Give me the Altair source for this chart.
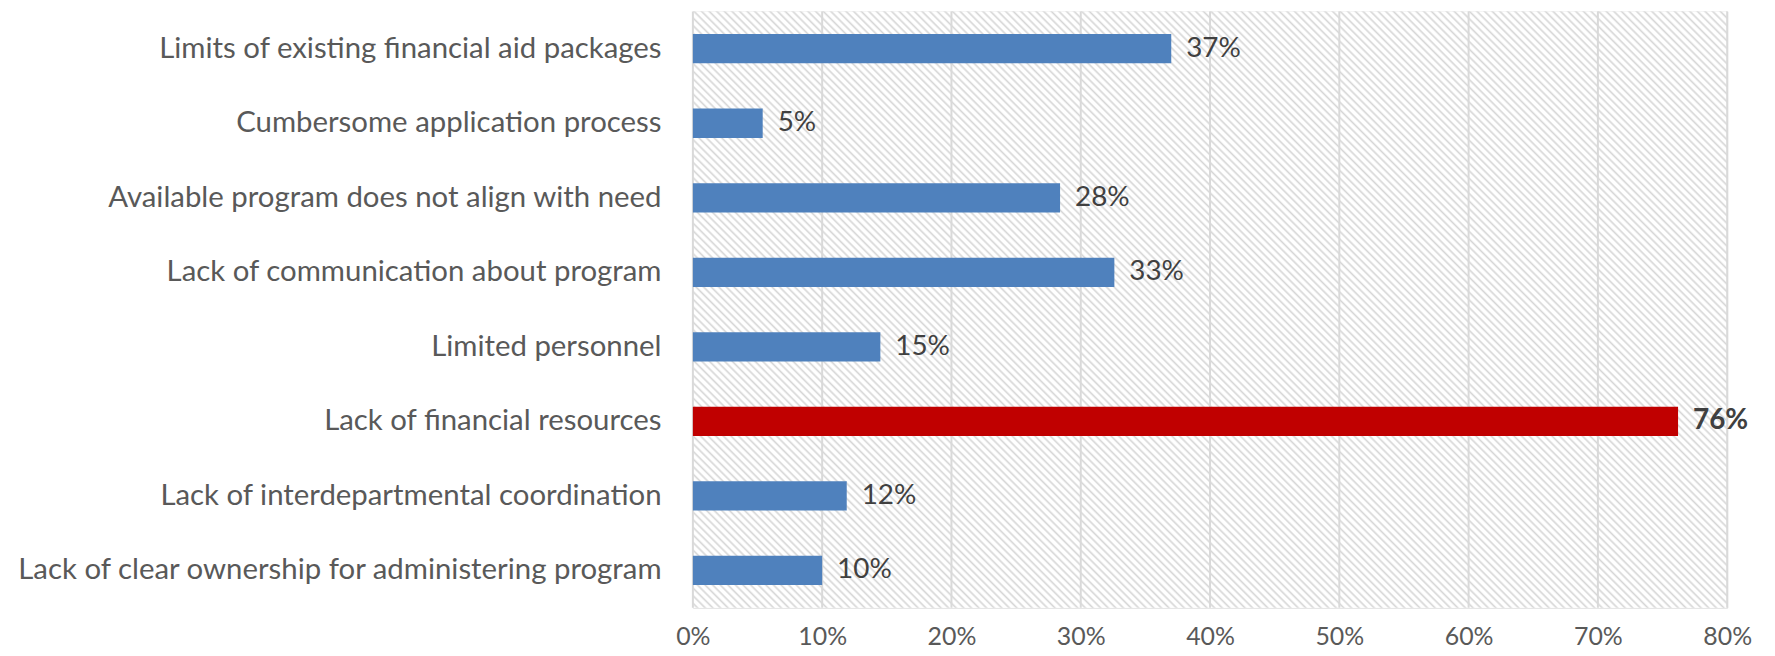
import altair as alt
import pandas as pd

categories = [
    "Limits of existing financial aid packages",
    "Cumbersome application process",
    "Available program does not align with need",
    "Lack of communication about program",
    "Limited personnel",
    "Lack of financial resources",
    "Lack of interdepartmental coordination",
    "Lack of clear ownership for administering program",
]
values = [37.0, 5.4, 28.4, 32.6, 14.5, 76.2, 11.9, 10.0]
value_labels = ["37%", "5%", "28%", "33%", "15%", "76%", "12%", "10%"]
highlight = "Lack of financial resources"
tick_values = [0, 10, 20, 30, 40, 50, 60, 70, 80]

FONT = "Lato"
W, H = 1039, 599

df = pd.DataFrame({"category": categories, "value": values, "label": value_labels})
ticks_df = pd.DataFrame({"tick": tick_values})
bg_df = pd.DataFrame({"lo": [tick_values[0]], "hi": [tick_values[-1]]})

# diagonal hatch as a striped linear gradient (45 degrees in pixel space)
ratio = H / W
k = (1 + ratio) / (1 + ratio * ratio)
span = (W + H) / 2 ** 0.5
period = 5.4 / span
stops = []
n = int(1 / period) + 1
for i in range(n + 1):
    for frac, col in ((0.0, "#ffffff"), (0.3, "#ffffff"), (0.6, "#d6d6d6"), (0.9, "#ffffff")):
        stops.append({"offset": min((i + frac) * period, 1.0), "color": col})
hatch = alt.LinearGradient(
    gradient="linear", stops=stops, x1=0, y1=1, x2=k, y2=1 - k * ratio
)

x_scale = alt.Scale(domain=[0, 80], nice=False, zero=True)
y_scale = alt.Scale(domain=categories, paddingInner=0.607, paddingOuter=0.3035)

x_axis = alt.Axis(
    title=None,
    domain=False,
    ticks=False,
    tickSize=0,
    grid=False,
    values=tick_values,
    labelExpr="datum.value + '%'",
    labelFont=FONT,
    labelFontSize=25,
    labelColor="#595959",
    labelPadding=17,
    labelFlush=False,
    labelAlign="center",
)

background = alt.Chart(bg_df).mark_rect(fill=hatch, stroke=None).encode(
    x=alt.X("lo:Q", scale=x_scale, axis=x_axis, title=None),
    x2="hi:Q",
)

grid = alt.Chart(ticks_df).mark_rule(color="#d9d9d9", strokeWidth=2).encode(
    x=alt.X("tick:Q", scale=x_scale, axis=x_axis, title=None)
)

base = alt.Chart(df)

bars = base.mark_bar().encode(
    y=alt.Y(
        "category:N",
        scale=y_scale,
        sort=categories,
        axis=alt.Axis(
            title=None,
            domain=False,
            ticks=False,
            tickSize=0,
            grid=False,
            labelFont=FONT,
            labelFontSize=29.5,
            labelColor="#595959",
            labelPadding=32,
            labelLimit=0,
        ),
    ),
    x=alt.X("value:Q", scale=x_scale, axis=x_axis, title=None),
    color=alt.condition(
        alt.datum.category == highlight, alt.value("#c00000"), alt.value("#4f81bd")
    ),
)

text_normal = base.transform_filter(alt.datum.category != highlight).mark_text(
    align="left", baseline="middle", dx=15, font=FONT, fontSize=28, color="#404040"
).encode(
    y=alt.Y("category:N", scale=y_scale, sort=categories),
    x=alt.X("value:Q", scale=x_scale, axis=x_axis, title=None),
    text="label:N",
)

text_bold = base.transform_filter(alt.datum.category == highlight).mark_text(
    align="left", baseline="middle", dx=15, font=FONT, fontSize=28,
    fontWeight="bold", color="#404040"
).encode(
    y=alt.Y("category:N", scale=y_scale, sort=categories),
    x=alt.X("value:Q", scale=x_scale, axis=x_axis, title=None),
    text="label:N",
)

chart = alt.layer(background, grid, bars, text_normal, text_bold).properties(
    width=W,
    height=H,
    autosize=alt.AutoSizeParams(type="none"),
    padding={"left": 688, "top": 2, "right": 40, "bottom": 46},
).configure_view(stroke=None).configure(background="#ffffff")

chart.save("out.html", embed_options={"renderer": "svg", "actions": False})
